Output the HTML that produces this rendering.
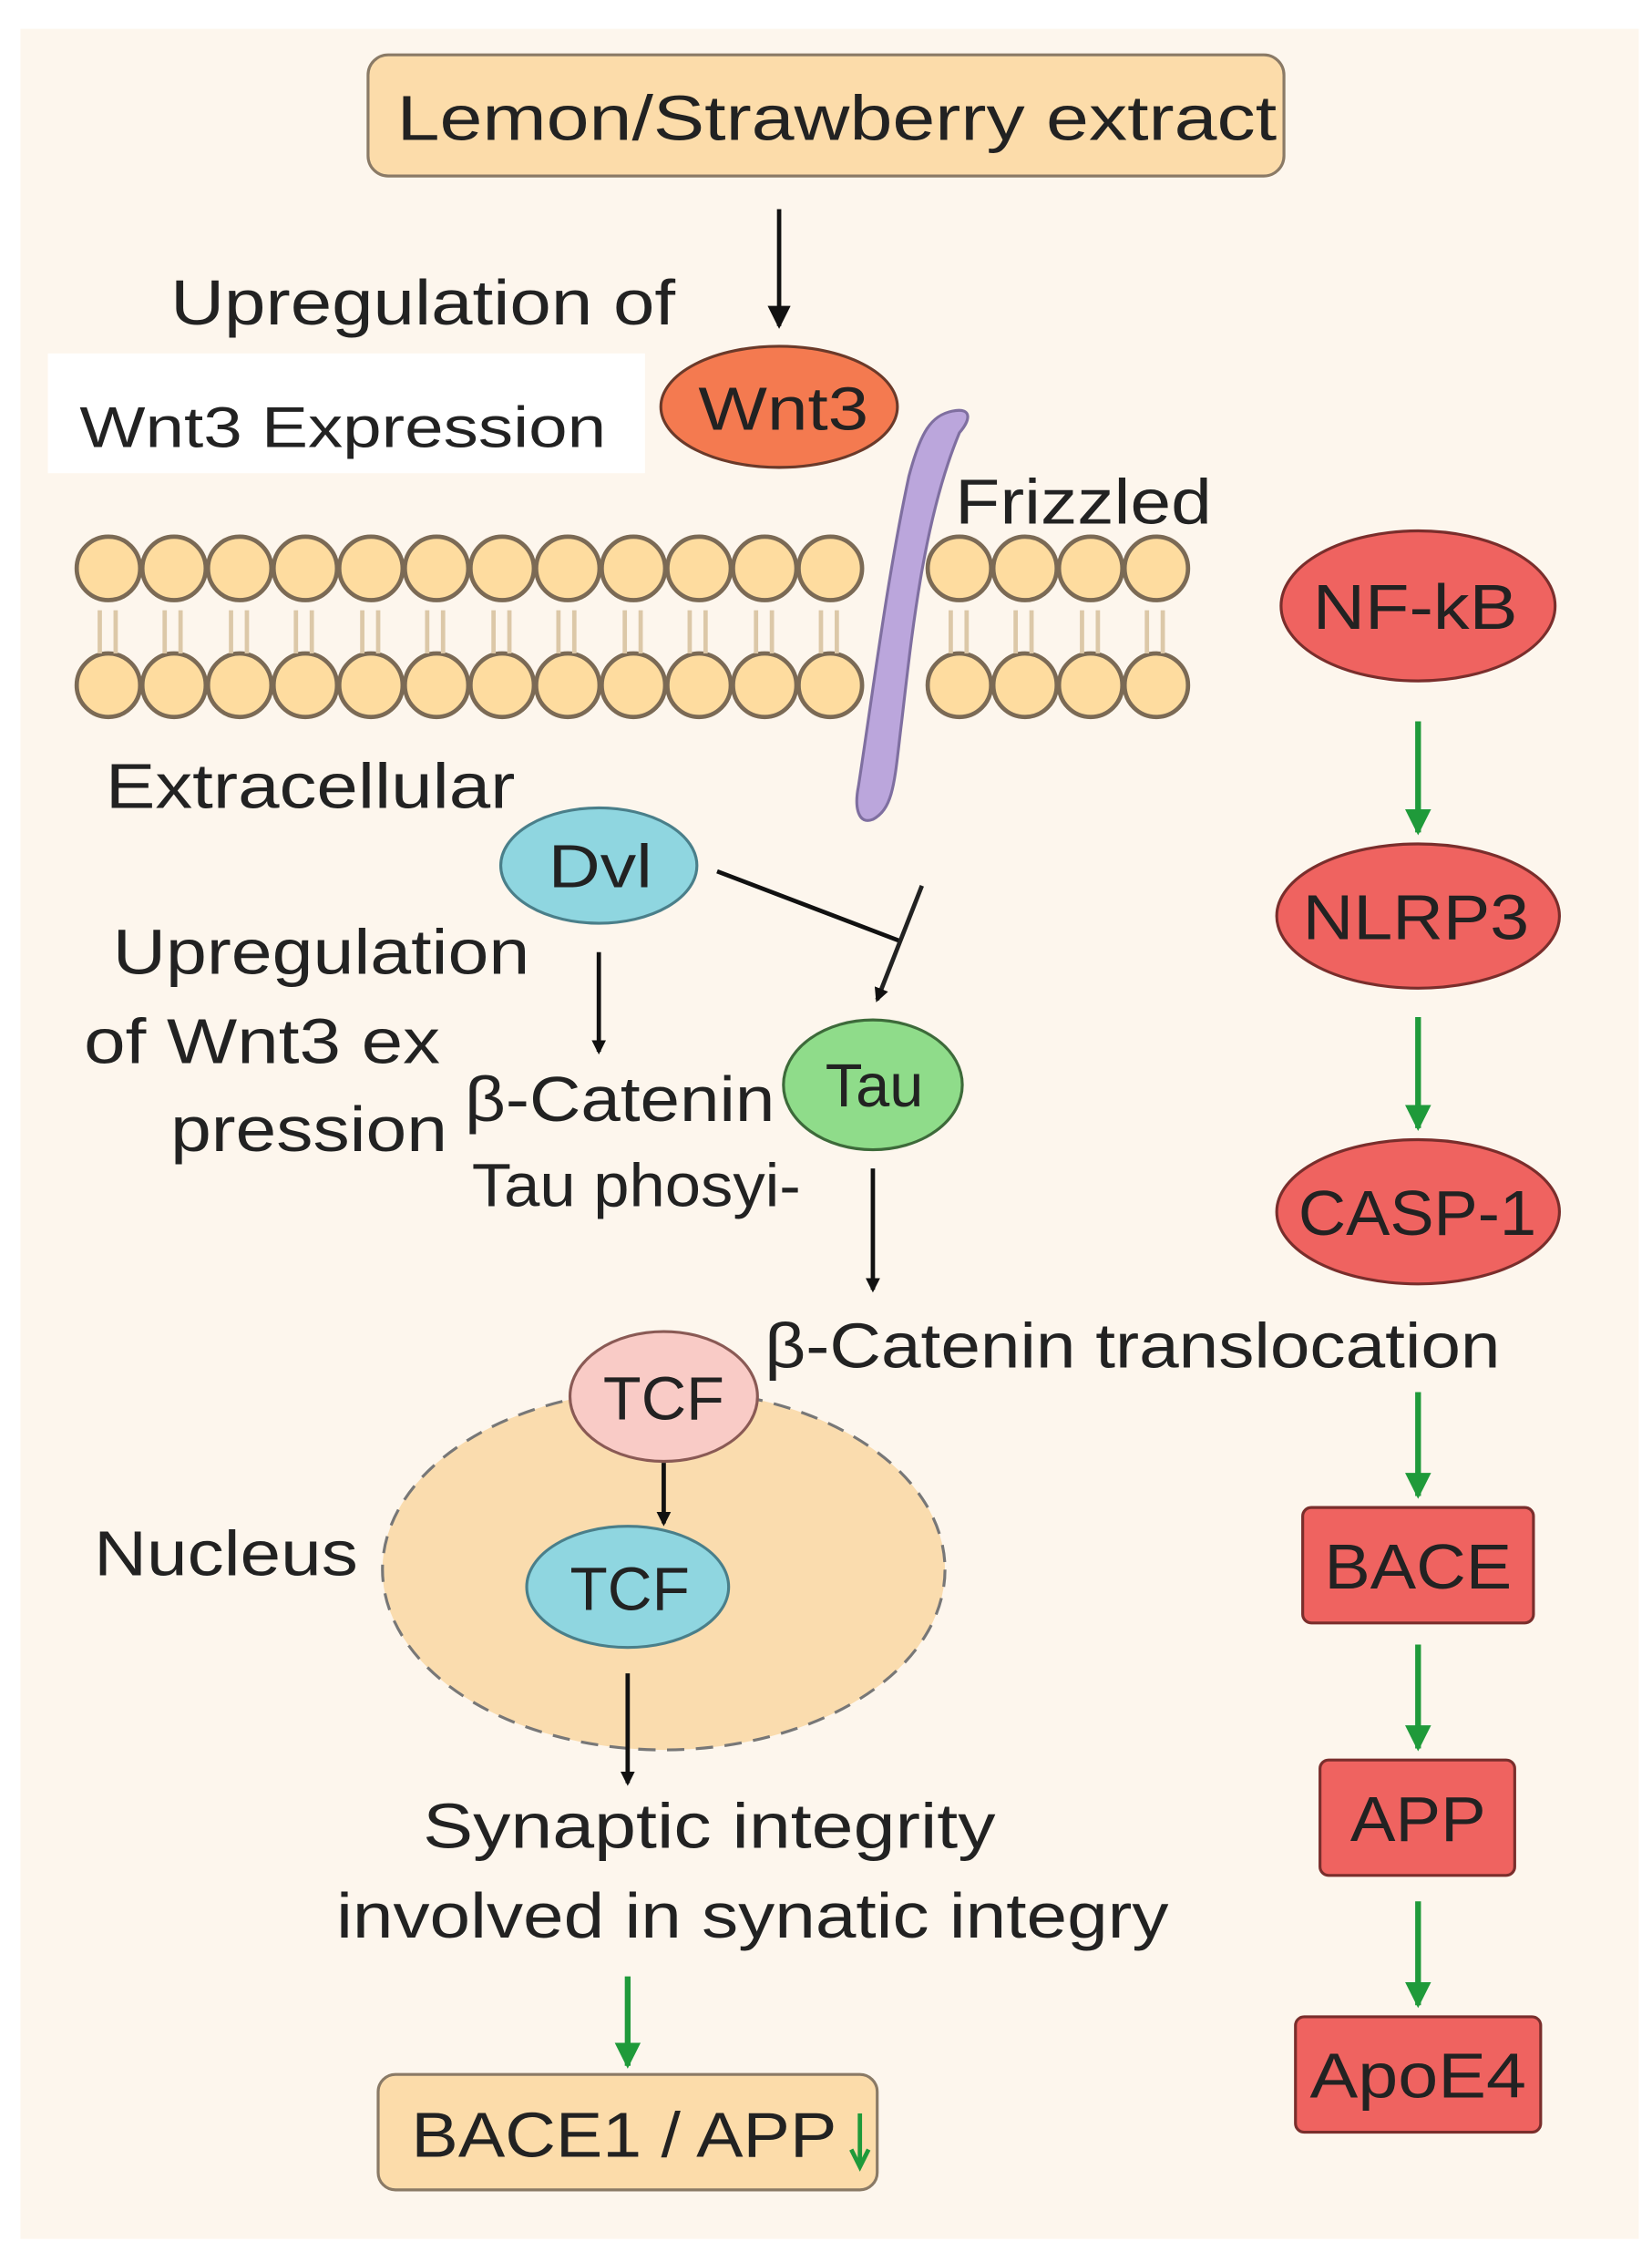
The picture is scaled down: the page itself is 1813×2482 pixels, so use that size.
<!DOCTYPE html>
<html><head><meta charset="utf-8"><style>
html,body{margin:0;padding:0;background:#fff}
svg{display:block}
text{font-family:"Liberation Sans","DejaVu Sans",sans-serif;fill:#222}
</style></head><body>
<svg width="1813" height="2482" viewBox="0 0 1145 1568" xmlns="http://www.w3.org/2000/svg">
<defs>
<marker id="ab" markerWidth="10" markerHeight="10" refX="8" refY="5" orient="auto" markerUnits="userSpaceOnUse"><path d="M0,0 L10,5 L0,10 z" fill="#111"/></marker>
<marker id="ag" markerWidth="18" markerHeight="18" refX="16" refY="9" orient="auto" markerUnits="userSpaceOnUse"><path d="M0,0 L18,9 L0,18 z" fill="#1f9a3a"/></marker>
<marker id="ab2" markerWidth="16" markerHeight="16" refX="14" refY="8" orient="auto" markerUnits="userSpaceOnUse"><path d="M0,0 L16,8 L0,16 z" fill="#111"/></marker>
</defs>
<rect x="0" y="0" width="1145" height="1568" fill="#fff"/>
<rect x="14" y="20" width="1122" height="1532" fill="#fdf6ed"/>

<rect x="255" y="38" width="635" height="84" rx="14" fill="#fcdcaa" stroke="#8a7a66" stroke-width="2"/>
<text x="275" y="97" font-size="44" textLength="610" lengthAdjust="spacingAndGlyphs">Lemon/Strawberry extract</text>
<line x1="540" y1="145" x2="540" y2="226" stroke="#111" stroke-width="3" marker-end="url(#ab2)"/>
<text x="118" y="225" font-size="44" textLength="350" lengthAdjust="spacingAndGlyphs">Upregulation of</text>
<rect x="33" y="245" width="414" height="83" fill="#fff"/>
<text x="55" y="310" font-size="40" fill="#000" textLength="365" lengthAdjust="spacingAndGlyphs">Wnt3 Expression</text>
<ellipse cx="540" cy="282" rx="82" ry="42" fill="#f47a50" stroke="#6b3a2a" stroke-width="2"/>
<text x="484" y="298" font-size="42" textLength="118" lengthAdjust="spacingAndGlyphs">Wnt3</text>

<g fill="#fedc9f" stroke="#7b6a55" stroke-width="3">
<g id="row">
<circle cx="75" cy="394" r="22"/><circle cx="120.5" cy="394" r="22"/><circle cx="166" cy="394" r="22"/><circle cx="211.5" cy="394" r="22"/><circle cx="257" cy="394" r="22"/><circle cx="302.5" cy="394" r="22"/><circle cx="348" cy="394" r="22"/><circle cx="393.5" cy="394" r="22"/><circle cx="439" cy="394" r="22"/><circle cx="484.5" cy="394" r="22"/><circle cx="530" cy="394" r="22"/><circle cx="575.5" cy="394" r="22"/>
<circle cx="665" cy="394" r="22"/><circle cx="710.5" cy="394" r="22"/><circle cx="756" cy="394" r="22"/><circle cx="801.5" cy="394" r="22"/>
</g>
<use href="#row" y="81"/>
</g>
<g stroke="#dcc8a8" stroke-width="3">
<path d="M69,423v30M80,423v30M114,423v30M125,423v30M160,423v30M171,423v30M205,423v30M216,423v30M251,423v30M262,423v30M296,423v30M307,423v30M342,423v30M353,423v30M387,423v30M398,423v30M433,423v30M444,423v30M478,423v30M489,423v30M524,423v30M535,423v30M569,423v30M580,423v30M659,423v30M670,423v30M704,423v30M715,423v30M750,423v30M761,423v30M795,423v30M806,423v30"/>
</g>
<path d="M660,285 C675,282 672,292 665,300 C640,360 632,440 625,500 C620,540 620,560 605,568 C595,572 592,560 595,545 C605,480 615,400 630,330 C638,300 645,288 660,285 z" fill="#bba6dc" stroke="#7f6fa0" stroke-width="2"/>
<text x="662" y="363" font-size="44" textLength="178" lengthAdjust="spacingAndGlyphs">Frizzled</text>
<text x="73" y="560" font-size="44" textLength="284" lengthAdjust="spacingAndGlyphs">Extracellular</text>

<ellipse cx="415" cy="600" rx="68" ry="40" fill="#8fd6e0" stroke="#4a7f8a" stroke-width="2"/>
<text x="380" y="615" font-size="42" textLength="72" lengthAdjust="spacingAndGlyphs">Dvl</text>
<line x1="497" y1="604" x2="623" y2="652" stroke="#111" stroke-width="3"/>
<line x1="639" y1="614" x2="608" y2="693" stroke="#222" stroke-width="3" marker-end="url(#ab)"/>

<text x="78" y="675" font-size="44" textLength="289" lengthAdjust="spacingAndGlyphs">Upregulation</text>
<text x="58" y="737" font-size="44" textLength="247" lengthAdjust="spacingAndGlyphs">of Wnt3 ex</text>
<text x="118" y="798" font-size="44" textLength="192" lengthAdjust="spacingAndGlyphs">pression</text>
<line x1="415" y1="660" x2="415" y2="729" stroke="#111" stroke-width="3" marker-end="url(#ab)"/>
<text x="322" y="777" font-size="44" textLength="215" lengthAdjust="spacingAndGlyphs">β-Catenin</text>
<ellipse cx="605" cy="752" rx="62" ry="45" fill="#8fdc8a" stroke="#3d6a3a" stroke-width="2"/>
<text x="572" y="767" font-size="42" textLength="68" lengthAdjust="spacingAndGlyphs">Tau</text>
<text x="327" y="836" font-size="42" textLength="228" lengthAdjust="spacingAndGlyphs">Tau phosyi-</text>
<line x1="605" y1="810" x2="605" y2="894" stroke="#111" stroke-width="3" marker-end="url(#ab)"/>
<text x="530" y="948" font-size="44" textLength="510" lengthAdjust="spacingAndGlyphs">β-Catenin translocation</text>

<ellipse cx="460" cy="1088" rx="195" ry="125" fill="#fadcae" stroke="#777" stroke-width="2" stroke-dasharray="12,8"/>
<text x="65" y="1092" font-size="44" textLength="183" lengthAdjust="spacingAndGlyphs">Nucleus</text>
<ellipse cx="460" cy="968" rx="65" ry="45" fill="#f9cbc6" stroke="#8a5a55" stroke-width="2"/>
<text x="418" y="984" font-size="42" textLength="84" lengthAdjust="spacingAndGlyphs">TCF</text>
<line x1="460" y1="1014" x2="460" y2="1056" stroke="#111" stroke-width="3" marker-end="url(#ab)"/>
<ellipse cx="435" cy="1100" rx="70" ry="42" fill="#8fd6e0" stroke="#4a7f8a" stroke-width="2"/>
<text x="395" y="1116" font-size="42" textLength="83" lengthAdjust="spacingAndGlyphs">TCF</text>
<line x1="435" y1="1160" x2="435" y2="1236" stroke="#111" stroke-width="3" marker-end="url(#ab)"/>
<text x="293" y="1281" font-size="44" textLength="397" lengthAdjust="spacingAndGlyphs">Synaptic integrity</text>
<text x="233" y="1343" font-size="44" textLength="577" lengthAdjust="spacingAndGlyphs">involved in synatic integry</text>
<line x1="435" y1="1370" x2="435" y2="1432" stroke="#1f9a3a" stroke-width="4" marker-end="url(#ag)"/>
<rect x="262" y="1438" width="346" height="80" rx="12" fill="#fcdcaa" stroke="#8a7a66" stroke-width="2"/>
<text x="285" y="1495" font-size="44" textLength="295" lengthAdjust="spacingAndGlyphs">BACE1 / APP</text>
<line x1="596" y1="1465" x2="596" y2="1500" stroke="#1f9a3a" stroke-width="3"/>
<path d="M590,1490 L596,1502 L602,1490" fill="none" stroke="#1f9a3a" stroke-width="3"/>

<g stroke="#7a2e2c" stroke-width="2" fill="#ef6360">
<ellipse cx="983" cy="420" rx="95" ry="52"/>
<ellipse cx="983" cy="635" rx="98" ry="50"/>
<ellipse cx="983" cy="840" rx="98" ry="50"/>
<rect x="903" y="1045" width="160" height="80" rx="6"/>
<rect x="915" y="1220" width="135" height="80" rx="6"/>
<rect x="898" y="1398" width="170" height="80" rx="6"/>
</g>
<text x="910" y="436" font-size="44" textLength="142" lengthAdjust="spacingAndGlyphs">NF-kB</text>
<text x="903" y="651" font-size="44" textLength="157" lengthAdjust="spacingAndGlyphs">NLRP3</text>
<text x="900" y="856" font-size="44" textLength="165" lengthAdjust="spacingAndGlyphs">CASP-1</text>
<text x="918" y="1101" font-size="44" textLength="130" lengthAdjust="spacingAndGlyphs">BACE</text>
<text x="936" y="1276" font-size="44" textLength="94" lengthAdjust="spacingAndGlyphs">APP</text>
<text x="908" y="1454" font-size="44" textLength="150" lengthAdjust="spacingAndGlyphs">ApoE4</text>
<g stroke="#1f9a3a" stroke-width="4" marker-end="url(#ag)">
<line x1="983" y1="500" x2="983" y2="577"/>
<line x1="983" y1="705" x2="983" y2="782"/>
<line x1="983" y1="965" x2="983" y2="1037"/>
<line x1="983" y1="1140" x2="983" y2="1212"/>
<line x1="983" y1="1318" x2="983" y2="1390"/>
</g>
</svg>
</body></html>
